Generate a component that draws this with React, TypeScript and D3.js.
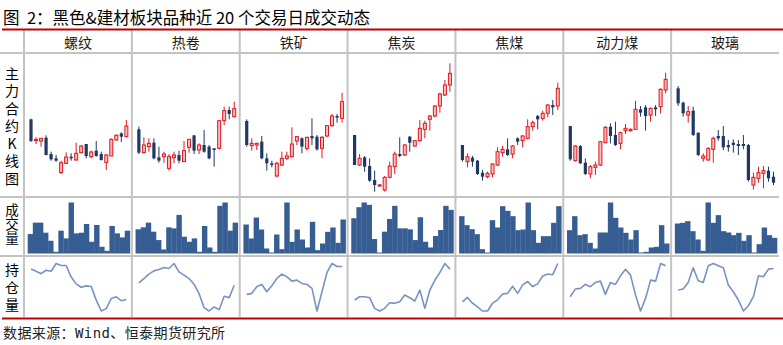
import React from 'react';
import * as d3 from 'd3';

// ---------- data ----------
const TITLE = '图  2：黑色&建材板块品种近 20 个交易日成交动态';
const SOURCE = '数据来源：Wind、恒泰期货研究所';
const CATEGORIES = ['螺纹', '热卷', '铁矿', '焦炭', '焦煤', '动力煤', '玻璃'];
const ROW_LABELS = ['主力合约K线图', '成交量', '持仓量'];

// [open, high, low, close]
const rebarK = [
  [3732, 3734, 3664, 3667], [3668, 3678, 3658, 3672], [3667, 3676, 3650, 3675], [3677, 3684, 3624, 3625],
  [3628, 3635, 3608, 3612], [3615, 3625, 3605, 3608], [3572, 3608, 3568, 3602], [3600, 3633, 3598, 3619],
  [3620, 3630, 3608, 3615], [3610, 3662, 3608, 3630], [3632, 3655, 3630, 3652], [3658, 3658, 3615, 3622],
  [3620, 3638, 3615, 3634], [3638, 3667, 3620, 3622], [3628, 3635, 3608, 3610], [3603, 3628, 3580, 3625],
  [3622, 3675, 3622, 3672], [3670, 3687, 3668, 3684], [3690, 3693, 3664, 3680], [3680, 3730, 3678, 3712],
];
const hrcK = [
  [4002, 4010, 3928, 3932], [3932, 3978, 3930, 3955], [3950, 3975, 3935, 3960], [3962, 3975, 3912, 3915],
  [3918, 3950, 3902, 3908], [3920, 3935, 3902, 3928], [3885, 3928, 3878, 3920], [3917, 3935, 3900, 3925],
  [3925, 3938, 3900, 3908], [3905, 3967, 3904, 3938], [3948, 3972, 3932, 3972], [3984, 3984, 3928, 3938],
  [3940, 3960, 3928, 3955], [3955, 4000, 3932, 3935], [3950, 3955, 3912, 3915], [3945, 3945, 3890, 3940],
  [3945, 4028, 3942, 4028], [4028, 4070, 4015, 4058], [4060, 4070, 4032, 4048], [4040, 4085, 4038, 4064],
];
const ironK = [
  [1027, 1032, 950, 955], [953, 975, 938, 960], [955, 962, 940, 960], [965, 982, 912, 915],
  [915, 930, 878, 900], [900, 908, 888, 895], [862, 905, 858, 900], [895, 935, 892, 915],
  [915, 935, 910, 922], [920, 1008, 918, 958], [967, 982, 955, 980], [975, 978, 930, 950],
  [945, 980, 938, 978], [982, 1035, 955, 975], [980, 985, 938, 942], [945, 982, 915, 978],
  [982, 1015, 978, 1013], [1013, 1048, 1010, 1042], [1042, 1048, 1022, 1037], [1035, 1112, 1022, 1085],
];
const cokeK = [
  [2385, 2385, 2295, 2295], [2295, 2328, 2292, 2315], [2318, 2322, 2275, 2290], [2292, 2315, 2245, 2248],
  [2250, 2278, 2215, 2235], [2232, 2238, 2230, 2235], [2220, 2262, 2215, 2258], [2258, 2305, 2255, 2292],
  [2290, 2335, 2268, 2328], [2328, 2378, 2318, 2322], [2325, 2358, 2322, 2355], [2380, 2382, 2335, 2362],
  [2352, 2370, 2350, 2368], [2368, 2430, 2365, 2405], [2402, 2428, 2375, 2420], [2432, 2445, 2398, 2442],
  [2442, 2475, 2438, 2472], [2472, 2512, 2452, 2508], [2505, 2550, 2502, 2535], [2535, 2600, 2515, 2570],
];
const cokingK = [
  [1855, 1855, 1805, 1810], [1805, 1830, 1788, 1820], [1817, 1822, 1790, 1805], [1808, 1810, 1765, 1768],
  [1772, 1780, 1748, 1760], [1760, 1775, 1755, 1770], [1768, 1800, 1758, 1798], [1795, 1848, 1792, 1835],
  [1832, 1852, 1820, 1842], [1842, 1875, 1822, 1825], [1828, 1855, 1815, 1852], [1875, 1878, 1855, 1865],
  [1868, 1885, 1848, 1882], [1875, 1932, 1872, 1910], [1910, 1928, 1898, 1922], [1942, 1945, 1902, 1932],
  [1935, 1958, 1928, 1950], [1950, 1978, 1938, 1975], [1975, 1990, 1945, 1968], [1972, 2042, 1960, 2025],
];
const thermalK = [
  [912, 912, 808, 812], [808, 855, 805, 852], [852, 855, 798, 800], [802, 815, 765, 768],
  [768, 795, 755, 790], [788, 805, 765, 795], [795, 865, 792, 865], [862, 912, 860, 908],
  [910, 920, 860, 882], [885, 925, 852, 855], [860, 895, 842, 892], [898, 918, 888, 905],
  [898, 905, 895, 902], [902, 988, 902, 962], [962, 972, 940, 952], [968, 975, 898, 942],
  [945, 968, 925, 965], [968, 975, 942, 962], [970, 1025, 950, 1022], [1020, 1072, 1010, 1052],
];
const glassK = [
  [2025, 2032, 1972, 1980], [1982, 1985, 1940, 1950], [1945, 1972, 1922, 1955], [1958, 1970, 1882, 1885],
  [1892, 1892, 1822, 1825], [1815, 1830, 1805, 1822], [1810, 1848, 1808, 1845], [1842, 1880, 1802, 1875],
  [1882, 1900, 1868, 1875], [1882, 1912, 1840, 1848], [1855, 1870, 1835, 1848], [1862, 1872, 1832, 1855],
  [1858, 1870, 1825, 1852], [1858, 1885, 1842, 1852], [1855, 1858, 1745, 1750], [1735, 1772, 1722, 1758],
  [1755, 1790, 1742, 1772], [1770, 1792, 1725, 1778], [1778, 1790, 1745, 1755], [1760, 1775, 1735, 1742],
];
// price axis range of each K panel
const K_DOMAINS = [
  [3502, 3931], [3802, 4231], [802, 1231], [2202, 2631], [1702, 2131], [702, 1131], [1702, 2131],
];

// volume (relative units)
const rebarVol = [58, 92, 92, 62, 38, 5, 68, 45, 152, 60, 62, 88, 35, 85, 20, 8, 82, 60, 48, 68];
const hrcVol = [72, 78, 92, 65, 40, 12, 78, 75, 115, 50, 35, 45, 5, 82, 18, 5, 142, 152, 68, 92];
const ironVol = [87, 45, 108, 72, 15, 3, 57, 13, 153, 35, 72, 42, 18, 95, 10, 30, 65, 78, 32, 102];
const cokeVol = [105, 138, 152, 145, 43, 3, 65, 103, 142, 75, 75, 72, 40, 108, 35, 18, 52, 70, 142, 130];
const cokingVol = [112, 85, 73, 58, 13, 3, 100, 78, 142, 128, 112, 70, 72, 153, 70, 32, 52, 52, 92, 142];
const thermalVol = [70, 112, 55, 58, 32, 15, 63, 63, 153, 107, 78, 62, 42, 70, 3, 5, 18, 20, 85, 30];
const glassVol = [90, 92, 97, 67, 42, 8, 153, 92, 115, 67, 63, 55, 62, 38, 55, 3, 28, 78, 55, 47];

// open interest (relative units)
const rebarOI = [162, 155, 148, 158, 155, 178, 172, 172, 138, 118, 108, 112, 110, 70, 38, 45, 75, 80, 68, 72];
const hrcOI = [122, 135, 148, 158, 162, 168, 165, 180, 155, 145, 135, 118, 90, 48, 38, 50, 42, 82, 78, 115];
const ironOI = [102, 105, 125, 132, 110, 128, 150, 163, 155, 142, 145, 135, 132, 120, 52, 110, 168, 195, 186, 186];
const cokeOI = [85, 95, 95, 92, 60, 52, 60, 77, 75, 80, 100, 92, 82, 115, 60, 115, 145, 168, 195, 178];
const cokingOI = [82, 95, 78, 67, 55, 55, 78, 88, 105, 107, 128, 107, 132, 142, 127, 135, 158, 164, 162, 195];
const thermalOI = [95, 118, 120, 132, 125, 138, 142, 102, 138, 132, 158, 178, 160, 100, 52, 90, 145, 142, 195, 188];
const glassOI = [115, 118, 138, 182, 143, 138, 188, 195, 188, 182, 130, 110, 85, 52, 68, 95, 158, 155, 178, 180];

const K_DATA = [rebarK, hrcK, ironK, cokeK, cokingK, thermalK, glassK];
const VOL_DATA = [rebarVol, hrcVol, ironVol, cokeVol, cokingVol, thermalVol, glassVol];
const OI_DATA = [rebarOI, hrcOI, ironOI, cokeOI, cokingOI, thermalOI, glassOI];

// ---------- style ----------
const RED = '#c00000';
const GRID = '#c3c3c3';
const UP = '#e0161c';
const UP_FILL = '#f6c0c0';
const DOWN = '#1f3864';
const VOL_COLOR = '#375e93';
const OI_COLOR = '#7893c2';
const CJK = "'Noto Sans CJK SC', 'Noto Sans', sans-serif";

const W = 783;
const H = 345;
const GRID_L = 24;
const GRID_R = 779;
const Y_TOP = 30;
const Y_HEAD = 53;
const Y_K = 197;
const Y_VOL = 256;
const Y_END = 317;

export default function App() {
  const cols = d3.scaleBand<string>().domain(CATEGORIES).range([GRID_L, GRID_R]);
  const cw = cols.bandwidth();
  const idx = d3.range(20);

  const panels = CATEGORIES.map((name, i) => {
    const x0 = cols(name) as number;
    const x1 = x0 + cw;
    const xb = d3.scaleBand<number>().domain(idx).range([x0 + 4.5, x1 - 3]);
    const xc = (j: number) => (xb(j) as number) + xb.bandwidth() / 2;
    const xv = d3.scaleBand<number>().domain(idx).range([x0 + 3.7, x1 - 2]);
    const yK = d3.scaleLinear().domain(K_DOMAINS[i]).range([196, 53]);
    const vols = VOL_DATA[i];
    const yV = d3.scaleLinear().domain([0, d3.max(vols) as number]).range([253.5, 202.5]);
    const ois = OI_DATA[i];
    const yO = d3.scaleLinear().domain(d3.extent(ois) as [number, number]).range([311, 263.5]);
    const line = d3.line<number>().x((_, j) => xc(j)).y((d) => yO(d));
    return (
      <g key={name}>
        <text x={(x0 + x1) / 2} y={42} textAnchor="middle" dominantBaseline="central"
          fontFamily={CJK} fontSize={14} fill="#1a1a1a">{name}</text>
        {K_DATA[i].map(([o, h, l, c], j) => {
          const up = c >= o;
          const cx = xc(j);
          const top = yK(Math.max(o, c));
          const bh = Math.max(1, yK(Math.min(o, c)) - top);
          return (
            <g key={j}>
              <line x1={cx} x2={cx} y1={yK(h)} y2={yK(l)} stroke={up ? UP : DOWN} strokeWidth={1} />
              {up ? (
                <rect x={cx - 1.5} y={top} width={3} height={bh} fill={UP_FILL} stroke={UP} strokeWidth={1} />
              ) : (
                <rect x={cx - 1.6} y={top} width={3.2} height={bh} fill={DOWN} />
              )}
            </g>
          );
        })}
        {vols.map((v, j) => (
          <rect key={'v' + j} x={xv(j) as number} width={xv.bandwidth() + 0.3} y={yV(v)} height={yV(0) - yV(v)}
            fill={VOL_COLOR} />
        ))}
        <path d={line(ois) as string} fill="none" stroke={OI_COLOR} strokeWidth={1.6} strokeLinejoin="round" />
      </g>
    );
  });

  const labelRows = [
    { text: ROW_LABELS[0], y0: 72.7, step: 17.5, size: 14 },
    { text: ROW_LABELS[1], y0: 209.3, step: 13.8, size: 13.5 },
    { text: ROW_LABELS[2], y0: 269, step: 17.5, size: 14 },
  ];

  return (
    <svg width={W} height={H} style={{ position: 'absolute', left: 0, top: 0, background: '#fff' }}>
      <rect width={W} height={H} fill="#fff" />
      <text x={3} y={16.5} dominantBaseline="central" fontFamily={CJK} fontSize={16.5} fill="#000"
        style={{ whiteSpace: 'pre' }}>{TITLE}</text>
      {/* grid */}
      {[Y_HEAD, Y_K, Y_VOL].map((y) => (
        <line key={'h' + y} x1={0} x2={GRID_R} y1={y} y2={y} stroke={GRID} strokeWidth={2} />
      ))}
      {CATEGORIES.map((c) => (
        <line key={'vl' + c} x1={cols(c) as number} x2={cols(c) as number} y1={Y_TOP} y2={Y_END}
          stroke={GRID} strokeWidth={2} />
      ))}
      <line x1={2} x2={W} y1={29.5} y2={29.5} stroke={RED} strokeWidth={2} />
      <line x1={2} x2={W} y1={318.5} y2={318.5} stroke={RED} strokeWidth={2} />
      {labelRows.map((r) =>
        Array.from(r.text).map((ch, k) => (
          <text key={r.text + k} x={12} y={r.y0 + k * r.step} textAnchor="middle" dominantBaseline="central"
            fontFamily={CJK} fontSize={r.size} fill="#000">{ch}</text>
        ))
      )}
      {panels}
      <text x={3} y={333} dominantBaseline="central" fontFamily={"'DejaVu Sans Mono', " + CJK} fontSize={14}
        letterSpacing={0.4} fill="#222">{SOURCE}</text>
    </svg>
  );
}
